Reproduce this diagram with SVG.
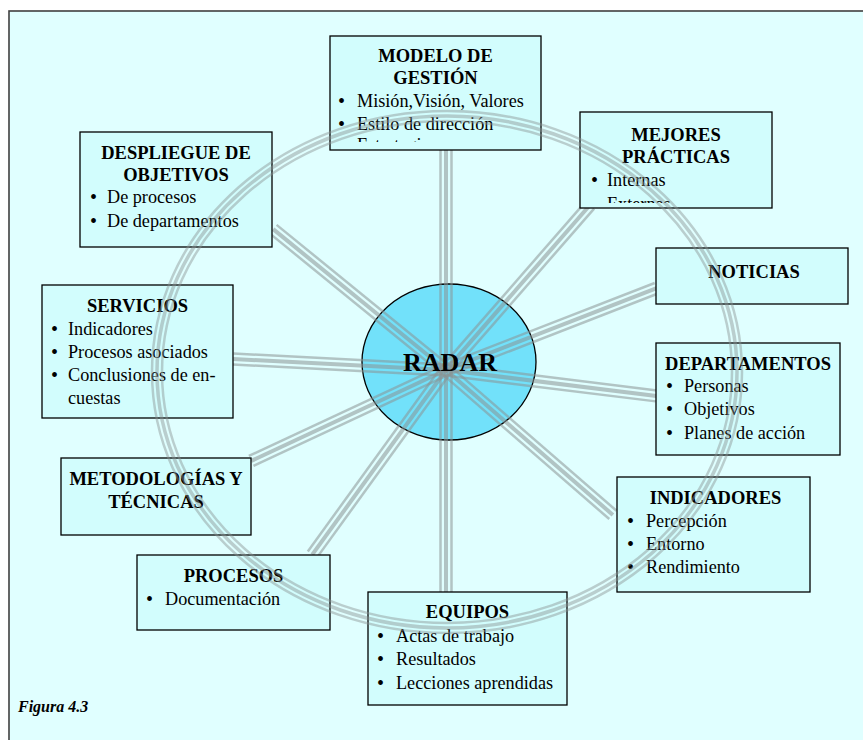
<svg xmlns="http://www.w3.org/2000/svg" width="863" height="740" viewBox="0 0 863 740">
<defs>
<style>
.box{fill:#d2fdfd;stroke:#000;stroke-width:1.3}
.t{font-family:"Liberation Serif","Times New Roman",serif;font-size:18.5px;font-weight:bold;text-anchor:middle;fill:#000}
.i{font-family:"Liberation Serif","Times New Roman",serif;font-size:18.2px;fill:#000}
.b{font-family:"Liberation Serif","Times New Roman",serif;font-size:20px;fill:#000}
.sp line{stroke:#8a9393;stroke-opacity:0.55}
.ring ellipse{fill:none;stroke:#8a9393;stroke-opacity:0.45}
</style>
<clipPath id="cm"><rect x="330" y="36" width="211" height="106"/></clipPath>
<clipPath id="cp"><rect x="580" y="112" width="192" height="91"/></clipPath>
</defs>
<rect x="0" y="0" width="863" height="740" fill="#fff"/>
<rect x="9" y="11" width="880" height="760" fill="#e0ffff" stroke="#404040" stroke-width="1.6"/>

<g id="radar">
<ellipse cx="449" cy="362" rx="87" ry="78" fill="#72e1fa" stroke="#000" stroke-width="1.3"/>
</g>

<g id="connectors" class="sp">
<g transform="translate(446,370) rotate(-90)"><line x1="0" y1="-5.5" x2="220" y2="-5.5" stroke-width="2.5"/><line x1="0" y1="0" x2="220" y2="0" stroke-width="4"/><line x1="0" y1="5.5" x2="220" y2="5.5" stroke-width="2.5"/></g>
<g transform="translate(446,370) rotate(-48.89)"><line x1="0" y1="-5.5" x2="219" y2="-5.5" stroke-width="2.5"/><line x1="0" y1="0" x2="219" y2="0" stroke-width="4"/><line x1="0" y1="5.5" x2="219" y2="5.5" stroke-width="2.5"/></g>
<g transform="translate(446,370) rotate(-21.24)"><line x1="0" y1="-5.5" x2="226" y2="-5.5" stroke-width="2.5"/><line x1="0" y1="0" x2="226" y2="0" stroke-width="4"/><line x1="0" y1="5.5" x2="226" y2="5.5" stroke-width="2.5"/></g>
<g transform="translate(446,370) rotate(7.02)"><line x1="0" y1="-5.5" x2="212" y2="-5.5" stroke-width="2.5"/><line x1="0" y1="0" x2="212" y2="0" stroke-width="4"/><line x1="0" y1="5.5" x2="212" y2="5.5" stroke-width="2.5"/></g>
<g transform="translate(446,370) rotate(40.97)"><line x1="0" y1="-5.5" x2="221" y2="-5.5" stroke-width="2.5"/><line x1="0" y1="0" x2="221" y2="0" stroke-width="4"/><line x1="0" y1="5.5" x2="221" y2="5.5" stroke-width="2.5"/></g>
<g transform="translate(446,370) rotate(90)"><line x1="0" y1="-5.5" x2="222" y2="-5.5" stroke-width="2.5"/><line x1="0" y1="0" x2="222" y2="0" stroke-width="4"/><line x1="0" y1="5.5" x2="222" y2="5.5" stroke-width="2.5"/></g>
<g transform="translate(446,370) rotate(125.92)"><line x1="0" y1="-5.5" x2="228" y2="-5.5" stroke-width="2.5"/><line x1="0" y1="0" x2="228" y2="0" stroke-width="4"/><line x1="0" y1="5.5" x2="228" y2="5.5" stroke-width="2.5"/></g>
<g transform="translate(446,370) rotate(154.98)"><line x1="0" y1="-5.5" x2="215" y2="-5.5" stroke-width="2.5"/><line x1="0" y1="0" x2="215" y2="0" stroke-width="4"/><line x1="0" y1="5.5" x2="215" y2="5.5" stroke-width="2.5"/></g>
<g transform="translate(446,370) rotate(182.96)"><line x1="0" y1="-5.5" x2="213" y2="-5.5" stroke-width="2.5"/><line x1="0" y1="0" x2="213" y2="0" stroke-width="4"/><line x1="0" y1="5.5" x2="213" y2="5.5" stroke-width="2.5"/></g>
<g transform="translate(446,370) rotate(-140.82)"><line x1="0" y1="-5.5" x2="223" y2="-5.5" stroke-width="2.5"/><line x1="0" y1="0" x2="223" y2="0" stroke-width="4"/><line x1="0" y1="5.5" x2="223" y2="5.5" stroke-width="2.5"/></g>
</g>

<text class="t" x="450" y="371" style="font-size:26px">RADAR</text>

<g id="modelo">
<rect class="box" x="330" y="36" width="211" height="114"/>
<text class="t" x="435.5" y="62">MODELO DE</text>
<text class="t" x="435.5" y="84">GESTIÓN</text>
<g clip-path="url(#cm)">
<text class="b" x="338" y="108">•</text><text class="i" x="357" y="107">Misión,Visión, Valores</text>
<text class="b" x="338" y="131">•</text><text class="i" x="357" y="130">Estilo de dirección</text>
<text class="i" x="357" y="151">Estrategia</text>
</g>
</g>

<g id="mejores">
<rect class="box" x="580" y="112" width="192" height="96"/>
<text class="t" x="676" y="141">MEJORES</text>
<text class="t" x="676" y="163">PRÁCTICAS</text>
<g clip-path="url(#cp)">
<text class="b" x="591" y="187">•</text><text class="i" x="607" y="186">Internas</text>
<text class="i" x="607" y="210">Externas</text>
</g>
</g>

<g id="noticias">
<rect class="box" x="656" y="248" width="192" height="56"/>
<text class="t" x="754" y="278">NOTICIAS</text>
</g>

<g id="departamentos">
<rect class="box" x="656" y="343" width="184" height="112"/>
<text class="t" x="748" y="370">DEPARTAMENTOS</text>
<text class="b" x="666" y="393">•</text><text class="i" x="684" y="392">Personas</text>
<text class="b" x="666" y="416">•</text><text class="i" x="684" y="415">Objetivos</text>
<text class="b" x="666" y="440">•</text><text class="i" x="684" y="439">Planes de acción</text>
</g>

<g id="indicadores">
<rect class="box" x="617" y="477" width="193" height="115"/>
<text class="t" x="715.5" y="504">INDICADORES</text>
<text class="b" x="627" y="528">•</text><text class="i" x="646" y="527">Percepción</text>
<text class="b" x="627" y="550.5">•</text><text class="i" x="646" y="549.5">Entorno</text>
<text class="b" x="627" y="573.5">•</text><text class="i" x="646" y="572.5">Rendimiento</text>
</g>

<g id="equipos">
<rect class="box" x="368" y="592" width="199" height="113"/>
<text class="t" x="467.5" y="618">EQUIPOS</text>
<text class="b" x="377" y="643">•</text><text class="i" x="396" y="642">Actas de trabajo</text>
<text class="b" x="377" y="666">•</text><text class="i" x="396" y="665">Resultados</text>
<text class="b" x="377" y="690">•</text><text class="i" x="396" y="689">Lecciones aprendidas</text>
</g>

<g id="procesos">
<rect class="box" x="137" y="555" width="193" height="75"/>
<text class="t" x="233.5" y="582">PROCESOS</text>
<text class="b" x="146" y="606">•</text><text class="i" x="165" y="605">Documentación</text>
</g>

<g id="metodologias">
<rect class="box" x="61" y="458" width="190" height="77"/>
<text class="t" x="156" y="485">METODOLOGÍAS Y</text>
<text class="t" x="156" y="508">TÉCNICAS</text>
</g>

<g id="servicios">
<rect class="box" x="42" y="285" width="191" height="133"/>
<text class="t" x="137.5" y="312">SERVICIOS</text>
<text class="b" x="51" y="336">•</text><text class="i" x="68" y="335">Indicadores</text>
<text class="b" x="51" y="359">•</text><text class="i" x="68" y="358">Procesos asociados</text>
<text class="b" x="51" y="382">•</text><text class="i" x="68" y="381">Conclusiones de en-</text>
<text class="i" x="68" y="404">cuestas</text>
</g>

<g id="despliegue">
<rect class="box" x="80" y="132" width="192" height="115"/>
<text class="t" x="176" y="159">DESPLIEGUE DE</text>
<text class="t" x="176" y="181">OBJETIVOS</text>
<text class="b" x="90" y="204">•</text><text class="i" x="107" y="203">De procesos</text>
<text class="b" x="90" y="228">•</text><text class="i" x="107" y="227">De departamentos</text>
</g>

<g id="ring" class="ring">
<ellipse cx="447" cy="372" rx="285" ry="251" stroke-width="2.5"/>
<ellipse cx="447" cy="372" rx="290" ry="256" stroke-width="3.5"/>
<ellipse cx="447" cy="372" rx="295" ry="261" stroke-width="2.5"/>
</g>

<text x="18" y="712" style="font-family:'Liberation Serif','Times New Roman',serif;font-size:16px;font-weight:bold;font-style:italic">Figura 4.3</text>
</svg>
